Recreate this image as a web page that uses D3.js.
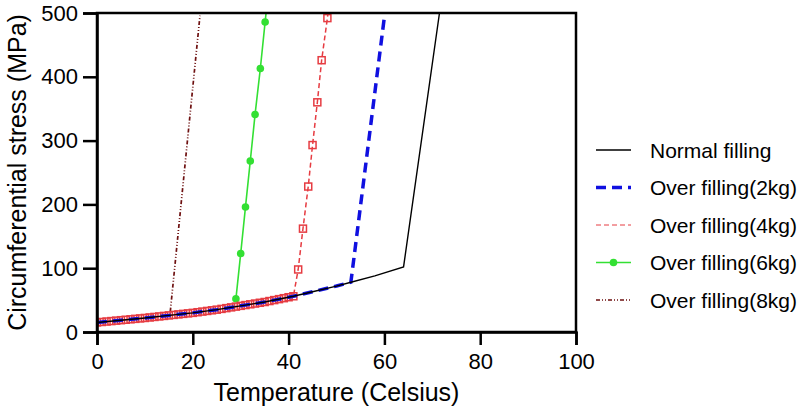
<!DOCTYPE html>
<html><head><meta charset="utf-8">
<script src="https://cdn.jsdelivr.net/npm/d3@7"></script>
<style>body{margin:0;background:#fff}svg{display:block}</style>
</head><body>
<svg id="c" width="800" height="420"></svg>
<script>
// ---- data (Temperature °C, Circumferential stress MPa) ----
const seriesNames = ["Normal filling","Over filling(2kg)","Over filling(4kg)","Over filling(6kg)","Over filling(8kg)"];
const xTicks = [0,20,40,60,80,100];
const yTicks = [0,100,200,300,400,500];

const normalX = [0,5,10,15,20,25,30,35,41,45,50,53,58,64,71.5];
const normalY = [15,18.5,22,26,30,35,41,47,56,63,72,78,88,102,500];

const over2X = [0,5,10,15,20,25,30,35,41,45,50,53,60.1];
const over2Y = [15,18.5,22,26,30,35,41,47,56,63,72,78,500];

const over4X = [0,1,2,3,4,5,6,7,8,9,10,11,12,13,14,15,16,17,18,19,20,21,22,23,24,25,26,27,28,29,30,31,32,33,34,35,36,37,38,39,40,41,42.0,43.0,44.1,45.0,46.0,46.9,48.1,49.1];
const over4Y = [15,15.7,16.4,17.1,17.8,18.5,19.2,19.9,20.6,21.3,22,22.8,23.6,24.4,25.2,26,26.8,27.6,28.4,29.2,30,31,32,33,34,35,36.2,37.4,38.6,39.8,41,42.2,43.4,44.6,45.8,47,48.5,50,51.5,53,54.5,56,98,162,228,293,360,426,492,558];

const over6X = [29.0,30.0,31.0,32.0,33.0,34.1,35.1,36.1];
const over6Y = [52,123,196,268,341,413,486,558];

const over8X = [15.3,21.5];
const over8Y = [32,496];

// ---- layout ----
const svg = d3.select("#c");
const L=97, R=576, T=13, B=332;
const x = d3.scaleLinear().domain([0,100]).range([L,R]);
const y = d3.scaleLinear().domain([0,500]).range([B,T]);
const font = "'Liberation Sans', Arial, sans-serif";

const zip = (xs,ys)=>xs.map((v,i)=>[v,ys[i]]);
const line = d3.line().x(d=>x(d[0])).y(d=>y(d[1]));

svg.append("defs").append("clipPath").attr("id","plot")
  .append("rect").attr("x",L).attr("y",T).attr("width",R-L).attr("height",B-T);
const g = svg.append("g").attr("clip-path","url(#plot)");

const styles = [
  {color:"#000000", width:1.4, dash:null},
  {color:"#1010e0", width:3.5, dash:"10,6"},
  {color:"#e63c42", width:1.5, dash:"5,3"},
  {color:"#33e033", width:1.6, dash:null},
  {color:"#6e1010", width:1.7, dash:"4,2,1,2,1,2"}
];

// 8kg
g.append("path").attr("d",line(zip(over8X,over8Y))).attr("fill","none")
 .attr("stroke",styles[4].color).attr("stroke-width",styles[4].width).attr("stroke-dasharray",styles[4].dash);
// 6kg
const d6 = zip(over6X,over6Y);
g.append("path").attr("d",line(d6)).attr("fill","none")
 .attr("stroke",styles[3].color).attr("stroke-width",styles[3].width);
g.selectAll(".dot6").data(d6).join("circle").attr("cx",d=>x(d[0])).attr("cy",d=>y(d[1])).attr("r",3.8).attr("fill",styles[3].color);
// 4kg
const d4 = zip(over4X,over4Y);
g.append("path").attr("d",line(d4)).attr("fill","none")
 .attr("stroke",styles[2].color).attr("stroke-width",styles[2].width).attr("stroke-dasharray",styles[2].dash);
g.selectAll(".sq4").data(d4).join("rect").attr("x",d=>x(d[0])-3.5).attr("y",d=>y(d[1])-3.5)
 .attr("width",7).attr("height",7).attr("fill","none").attr("stroke",styles[2].color).attr("stroke-width",1.5);
// 2kg
g.append("path").attr("d",line(zip(over2X,over2Y))).attr("fill","none")
 .attr("stroke",styles[1].color).attr("stroke-width",styles[1].width).attr("stroke-dasharray",styles[1].dash);
// normal
g.append("path").attr("d",line(zip(normalX,normalY))).attr("fill","none")
 .attr("stroke",styles[0].color).attr("stroke-width",styles[0].width);

// frame
svg.append("rect").attr("x",L).attr("y",T).attr("width",R-L).attr("height",B-T)
 .attr("fill","none").attr("stroke","#000").attr("stroke-width",2.5);

// axes
const xAxis = svg.append("g").attr("transform",`translate(0,${B})`)
  .call(d3.axisBottom(x).tickValues(xTicks).tickSize(13).tickPadding(8).tickFormat(d3.format("d")));
const yAxis = svg.append("g").attr("transform",`translate(${L},0)`)
  .call(d3.axisLeft(y).tickValues(yTicks).tickSize(14).tickPadding(5).tickFormat(d3.format("d")));
[xAxis,yAxis].forEach(a=>{
  a.select(".domain").attr("stroke-width",2.5);
  a.selectAll(".tick line").attr("stroke-width",2.5);
  a.selectAll("text").attr("font-family",font).attr("font-size",22).attr("fill","#000");
});

// titles
svg.append("text").attr("x",(L+R)/2).attr("y",401).attr("text-anchor","middle")
 .attr("font-family",font).attr("font-size",25).text("Temperature (Celsius)");
svg.append("text").attr("transform",`translate(26,${(T+B)/2}) rotate(-90)`).attr("text-anchor","middle")
 .attr("font-family",font).attr("font-size",25).text("Circumferential stress (MPa)");

// legend
const lg = svg.append("g");
seriesNames.forEach((n,i)=>{
  const cy = 150 + i*37.5;
  const s = styles[i];
  lg.append("line").attr("x1",596).attr("x2",631).attr("y1",cy).attr("y2",cy)
    .attr("stroke",s.color).attr("stroke-width",i===1?3.5:(i===2?1:1.4)).attr("stroke-dasharray",s.dash);
  if(i===3) lg.append("circle").attr("cx",613.5).attr("cy",cy).attr("r",3.8).attr("fill",s.color);
  lg.append("text").attr("x",650).attr("y",cy+7.5).attr("font-family",font).attr("font-size",21).text(n);
});
</script>
</body></html>
